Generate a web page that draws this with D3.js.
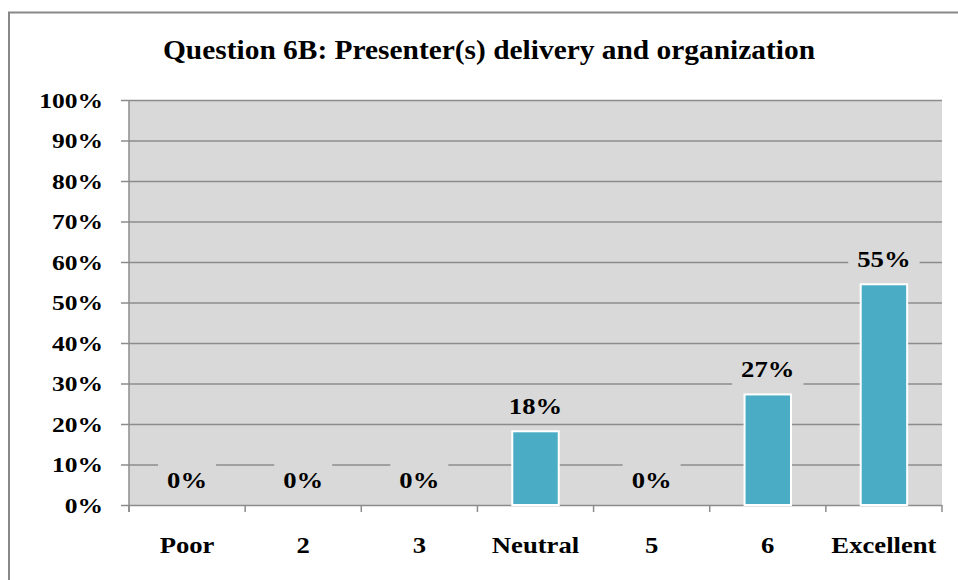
<!DOCTYPE html>
<html>
<head>
<meta charset="utf-8">
<script src="https://cdn.jsdelivr.net/npm/d3@7"></script>
<style>
  body { margin: 0; background: #fff; }
  text { font-family: "Liberation Serif", "Times New Roman", serif; font-weight: bold; fill: #000; }
</style>
</head>
<body>
<script>
// chart data
const categories = ['Poor', '2', '3', 'Neutral', '5', '6', 'Excellent'];
const shares = [0, 0, 0, 0.182, 0, 0.273, 0.545];
const shareLabels = ['0%', '0%', '0%', '18%', '0%', '27%', '55%'];
const yTicks = [0, 0.1, 0.2, 0.3, 0.4, 0.5, 0.6, 0.7, 0.8, 0.9, 1];

const width = 958, height = 580;
const plot = {left: 129, right: 942, top: 100, bottom: 505};
const gridColor = '#8c8c8c';
const kx = 1.16; // the picture's lettering is a bit wide

let svg = d3.select('body').append('svg')
    .attr('width', width)
    .attr('height', height);

// outer frame of the chart (runs off the picture to the right and bottom)
svg.append('rect')
    .attr('x', 9).attr('y', 12.5)
    .attr('width', 960).attr('height', 580)
    .attr('fill', '#fff')
    .attr('stroke', '#888')
    .attr('stroke-width', 2);

let x = d3.scaleBand()
    .domain(categories)
    .range([plot.left, plot.right])
    .paddingInner(0.6)
    .paddingOuter(0.3);

let y = d3.scaleLinear()
    .domain([0, 1])
    .range([plot.bottom, plot.top]);

// helper: text with a horizontal stretch
function wideText(sel, tx, ty, str, size, anchor, k) {
    let g = sel.append('g').attr('transform', 'translate(' + tx + ',' + ty + ') scale(' + (k || kx) + ',1)');
    return g.append('text')
        .attr('text-anchor', anchor)
        .style('font-size', size + 'px')
        .text(str);
}

// plot background
svg.append('rect')
    .attr('x', plot.left).attr('y', plot.top)
    .attr('width', plot.right - plot.left)
    .attr('height', plot.bottom - plot.top)
    .attr('fill', '#d9d9d9');

// horizontal gridlines + y axis ticks
svg.append('g')
    .attr('transform', 'translate(' + plot.left + ',0)')
    .call(d3.axisLeft(y)
        .tickValues(yTicks)
        .tickSize(-(plot.right - plot.left))
        .tickSizeOuter(0)
        .tickFormat(''))
    .call(g => g.select('.domain').remove())
    .call(g => g.selectAll('.tick line')
        .attr('x1', -8)
        .attr('stroke', gridColor)
        .attr('stroke-width', 1.5));

// left axis line
svg.append('line')
    .attr('x1', plot.left).attr('x2', plot.left)
    .attr('y1', plot.top).attr('y2', plot.bottom + 7)
    .attr('stroke', gridColor)
    .attr('stroke-width', 1.5);

// y labels
yTicks.forEach(function(t) {
    wideText(svg, 103, y(t) + 7.5, d3.format('.0%')(t), 22, 'end');
});

// bottom category ticks at band boundaries
let step = x.step();
let bounds = d3.range(categories.length + 1).map(function(i) {
    return x(categories[0]) - x.paddingOuter() * step + i * step;
});
svg.selectAll('line.xtick')
    .data(bounds)
    .enter().append('line')
    .attr('class', 'xtick')
    .attr('x1', function(d) { return d; })
    .attr('x2', function(d) { return d; })
    .attr('y1', plot.bottom)
    .attr('y2', plot.bottom + 7)
    .attr('stroke', gridColor)
    .attr('stroke-width', 1.5);

// bars
svg.selectAll('rect.bar')
    .data(shares)
    .enter().append('rect')
    .attr('class', 'bar')
    .attr('x', function(d, i) { return x(categories[i]); })
    .attr('y', function(d) { return y(d); })
    .attr('width', x.bandwidth())
    .attr('height', function(d) { return y(0) - y(d); })
    .attr('fill', '#4bacc6')
    .attr('stroke', '#fff')
    .attr('stroke-width', 2)
    .style('display', function(d) { return d > 0 ? null : 'none'; });

// data labels, with a plot-coloured box behind them (hides the gridline)
shares.forEach(function(d, i) {
    let cx = x(categories[i]) + x.bandwidth() / 2;
    let base = y(d) - 17.5;
    let g = svg.append('g');
    let t = wideText(g, cx, base, shareLabels[i], 23, 'middle');
    let w = t.node().getComputedTextLength() * kx + 18;
    g.insert('rect', ':first-child')
        .attr('x', cx - w / 2)
        .attr('y', base - 25)
        .attr('width', w)
        .attr('height', 33.5)
        .attr('fill', '#d9d9d9');
});

// category labels
categories.forEach(function(c) {
    wideText(svg, x(c) + x.bandwidth() / 2, 552.5, c, 23, 'middle');
});

// title
wideText(svg, 489, 58.5, 'Question 6B: Presenter(s) delivery and organization', 26.5, 'middle', 1.11);
</script>
</body>
</html>
